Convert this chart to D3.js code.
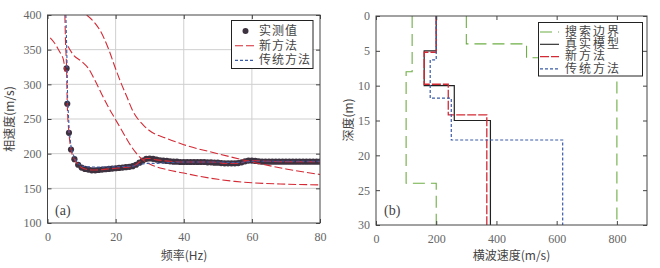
<!DOCTYPE html>
<html>
<head>
<meta charset="utf-8">
<script src="https://cdn.jsdelivr.net/npm/d3@7"></script>
<style>
    body { margin: 0; background: #fff; }
    svg { display: block; }
    .cjk { font-family: "Noto Sans CJK SC", sans-serif; font-size: 12px; fill: #444; }
</style>
</head>
<body>
<script>
const width = 660;
const height = 268;

// (a) measured phase velocity
const measFreq = [5.6, 5.8, 6.3, 6.9, 7.9, 9, 10, 11, 12, 13, 14, 15, 16, 17, 18, 19, 20,
    21, 22, 23, 24, 25, 26, 27, 28, 29, 30, 31, 32, 33, 34, 35, 36, 37, 38, 39, 40,
    41, 42, 43, 44, 45, 46, 47, 48, 49, 50, 51, 52, 53, 54, 55, 56, 57, 58, 59, 60,
    61, 62, 63, 64, 65, 66, 67, 68, 69, 70, 71, 72, 73, 74, 75, 76, 77, 78, 79, 80];
const measVel = [323, 272, 230, 206, 192, 184, 180, 178, 177, 176, 176, 176.5, 177, 177.5, 178, 178.5, 179,
    179.5, 180, 180.5, 181, 182, 184, 187, 190, 192.5, 193, 192.5, 191.5, 190.5, 190, 189.5, 189, 188.5, 188.5, 188, 188,
    188, 188, 188, 188, 188, 188, 187.5, 187.5, 187, 187, 186.5, 186, 186, 186, 186, 186.5, 187.5, 189, 190, 190,
    189.5, 189, 188.5, 188.5, 188.5, 188.5, 188.5, 188.5, 188.5, 188.5, 188.5, 188.5, 188.5, 188.5, 188.5, 188.5, 188.5, 188.5, 188.5, 188.5];

// (a) new method fitted curve
const newFreq = [5.1, 5.3, 5.6, 5.8, 6.3, 6.9, 7.9, 9, 10, 11, 12, 13, 14, 16, 18, 20, 22, 24, 25, 26, 27, 28,
    29, 30, 32, 34, 36, 40, 45, 50, 52, 55, 57, 58, 60, 65, 70, 80];
const newVel = [400, 360, 323, 272, 230, 206, 192, 184, 180, 178, 177, 176.5, 176.5, 177, 178, 179, 180, 181, 182, 184, 188, 191,
    193, 193, 191, 190, 189, 188, 188, 187.5, 186, 186, 187, 189, 190, 189, 188.5, 188.5];

// (a) new method bound curves
const upperFreq = [11.5, 14, 15.4, 18, 19.8, 21.5, 23.3, 25, 28, 30, 35, 40, 50, 60, 70, 80];
const upperVel = [400, 388, 378, 350, 325, 303, 282, 262, 242, 233, 222, 213, 200, 188, 178, 170];
const midFreq = [6.0, 7.5, 10, 12, 14, 16, 18, 20, 22, 24, 26, 28, 30, 35, 40, 45, 50, 55, 60, 70, 80];
const midVel = [355, 343, 333, 323, 305, 285, 266, 249, 232, 215, 201, 191, 185, 177, 172, 167, 163, 160, 158, 156, 155];
const lowFreq = [0.8, 2, 3, 4, 4.7, 5.2];
const lowVel = [367, 360, 352, 343, 335, 318];

// (a) traditional method
const oldFreq = [5.4, 5.7, 5.9, 6.4, 7, 8, 9, 10, 12, 15, 20, 25, 27, 29, 32, 35, 40, 50, 55, 58, 60, 80];
const oldVel = [400, 340, 280, 232, 207, 193, 186, 182, 181, 180.5, 181, 182, 184, 186, 186, 187, 188, 188, 187, 188, 189, 189];

// (b) layered models: velocities per layer and layer boundary depths
const lowBoundVs = [120, 100, 200];
const lowBoundDepth = [0, 8, 24, 30];
const upBoundVs = [300, 500, 800];
const upBoundDepth = [0, 4, 6, 30];
const trueVs = [200, 160, 260, 380];
const trueDepth = [0, 5, 10, 15, 30];
const newVs = [200, 160, 240, 368];
const newDepth = [0, 5.2, 9.8, 14.2, 30];
const oldVs = [200, 180, 250, 620];
const oldDepth = [0, 6.3, 11.8, 17.8, 30];

const freqTicks = [0, 20, 40, 60, 80];
const velTicks = [100, 150, 200, 250, 300, 350, 400];
const vsTicks = [0, 200, 400, 600, 800];
const depthTicks = [0, 5, 10, 15, 20, 25, 30];

const red = "#d42a35";
const blue = "#3a5ba8";
const green = "#6fae45";
const dotColour = "#3d3340";

const svg = d3.select("body").append("svg")
    .attr("width", width)
    .attr("height", height);

function frame(g, x, y) {
    const [x0, x1] = x.range();
    const [y0, y1] = y.range();
    g.append("rect")
        .attr("x", x0).attr("y", Math.min(y0, y1))
        .attr("width", x1 - x0).attr("height", Math.abs(y1 - y0))
        .attr("fill", "none").attr("stroke", "#444").attr("stroke-width", 1);
}

function axes(g, x, y, xt, yt) {
    const [y0, y1] = y.range();
    const bottom = Math.max(y0, y1);
    const top = Math.min(y0, y1);
    g.append("g").attr("transform", `translate(0,${bottom})`)
        .call(d3.axisBottom(x).tickValues(xt).tickSize(-4).tickPadding(9));
    g.append("g").attr("transform", `translate(${x.range()[0]},0)`)
        .call(d3.axisLeft(y).tickValues(yt).tickSize(-4).tickPadding(6));
    // mirrored ticks
    g.append("g").attr("transform", `translate(0,${top})`)
        .call(d3.axisTop(x).tickValues(xt).tickSize(-4).tickFormat(""));
    g.append("g").attr("transform", `translate(${x.range()[1]},0)`)
        .call(d3.axisRight(y).tickValues(yt).tickSize(-4).tickFormat(""));
    g.selectAll(".domain").remove();
    g.selectAll(".tick line").attr("stroke", "#444");
    g.selectAll(".tick text")
        .attr("font-family", "Liberation Serif, serif")
        .attr("font-size", 12)
        .attr("fill", "#666");
}

/////////////////////////////
//// Panel (a) //////////////
/////////////////////////////
const xa = d3.scaleLinear().domain([0, 80]).range([47.5, 320]);
const ya = d3.scaleLinear().domain([100, 400]).range([223, 15]);
const ga = svg.append("g");

ga.append("defs").append("clipPath").attr("id", "clipA")
    .append("rect").attr("x", 47.5).attr("y", 15).attr("width", 272.5).attr("height", 208);

// grid
ga.selectAll(".gx").data(freqTicks.slice(1, -1)).enter().append("line")
    .attr("x1", (d) => xa(d)).attr("x2", (d) => xa(d))
    .attr("y1", 15).attr("y2", 223)
    .attr("stroke", "#cfcfcf");
ga.selectAll(".gy").data(velTicks.slice(1, -1)).enter().append("line")
    .attr("x1", 47.5).attr("x2", 320)
    .attr("y1", (d) => ya(d)).attr("y2", (d) => ya(d))
    .attr("stroke", "#cfcfcf");

const lineA = (fs, vs) => d3.line().curve(d3.curveMonotoneX)
    .x((d, i) => xa(fs[i])).y((d, i) => ya(vs[i]))(fs);

const plotA = ga.append("g").attr("clip-path", "url(#clipA)");

// measured values
plotA.selectAll(".dot").data(measFreq).enter().append("circle")
    .attr("cx", (d) => xa(d))
    .attr("cy", (d, i) => ya(measVel[i]))
    .attr("r", 3.1)
    .attr("fill", dotColour);

[[upperFreq, upperVel], [midFreq, midVel], [lowFreq, lowVel], [newFreq, newVel]].forEach(([f, v]) => {
    plotA.append("path").attr("d", lineA(f, v))
        .attr("fill", "none").attr("stroke", red).attr("stroke-width", 1.1)
        .attr("stroke-dasharray", "8,3");
});
plotA.append("path").attr("d", d3.line().x((d, i) => xa(oldFreq[i])).y((d, i) => ya(oldVel[i]))(oldFreq))
    .attr("fill", "none").attr("stroke", blue).attr("stroke-width", 1.1)
    .attr("stroke-dasharray", "3,2");

axes(ga, xa, ya, freqTicks, velTicks);
frame(ga, xa, ya);

ga.append("text").attr("x", 55).attr("y", 215)
    .attr("font-family", "Liberation Serif, serif").attr("font-size", 14).attr("fill", "#444")
    .text("(a)");

ga.append("text").attr("class", "cjk").attr("text-anchor", "middle")
    .attr("x", 184).attr("y", 260).text("频率(Hz)");
ga.append("text").attr("class", "cjk").attr("text-anchor", "middle")
    .attr("transform", "translate(14,119) rotate(-90)").text("相速度(m/s)");

// legend (a)
const legA = ga.append("g");
legA.append("rect").attr("x", 231.5).attr("y", 20.5).attr("width", 81.5).attr("height", 48)
    .attr("fill", "#fff").attr("stroke", "#222").attr("stroke-width", 1);
const legAItems = [
    { name: "实测值", type: "dot" },
    { name: "新方法", type: "new" },
    { name: "传统方法", type: "old" },
];
legAItems.forEach((d, i) => {
    const yy = 31 + i * 14.7;
    if (d.type === "dot") {
        legA.append("circle").attr("cx", 245.5).attr("cy", yy).attr("r", 3).attr("fill", dotColour);
    } else {
        legA.append("line").attr("x1", 235).attr("x2", 255).attr("y1", yy).attr("y2", yy)
            .attr("stroke", d.type === "new" ? red : blue).attr("stroke-width", 1.1)
            .attr("stroke-dasharray", d.type === "new" ? "8,3" : "3,2");
    }
    legA.append("text").attr("class", "cjk").attr("x", 259).attr("y", yy + 4)
        .attr("font-size", 11.5).attr("letter-spacing", 1).text(d.name);
});

/////////////////////////////
//// Panel (b) //////////////
/////////////////////////////
const xb = d3.scaleLinear().domain([0, 900]).range([376, 647]);
const yb = d3.scaleLinear().domain([0, 30]).range([16, 225]);
const gb = svg.append("g");

function stepPath(vs, depths) {
    const pts = [];
    vs.forEach((v, i) => {
        pts.push([v, depths[i]]);
        pts.push([v, depths[i + 1]]);
    });
    return d3.line().x((d) => xb(d[0])).y((d) => yb(d[1]))(pts);
}

const models = [
    { vs: lowBoundVs, depth: lowBoundDepth, colour: green, dash: "12,6", w: 1.1 },
    { vs: upBoundVs, depth: upBoundDepth, colour: green, dash: "12,6", w: 1.1 },
    { vs: trueVs, depth: trueDepth, colour: "#222", dash: null, w: 1.2 },
    { vs: newVs, depth: newDepth, colour: red, dash: "9,2", w: 1.3 },
    { vs: oldVs, depth: oldDepth, colour: blue, dash: "3,2", w: 1.2 },
];
models.forEach((m) => {
    gb.append("path").attr("d", stepPath(m.vs, m.depth))
        .attr("fill", "none").attr("stroke", m.colour).attr("stroke-width", m.w)
        .attr("stroke-dasharray", m.dash);
});

axes(gb, xb, yb, vsTicks, depthTicks);
frame(gb, xb, yb);

gb.append("text").attr("x", 384).attr("y", 215)
    .attr("font-family", "Liberation Serif, serif").attr("font-size", 14).attr("fill", "#444")
    .text("(b)");

gb.append("text").attr("class", "cjk").attr("text-anchor", "middle")
    .attr("x", 511.5).attr("y", 260).text("横波速度(m/s)");
gb.append("text").attr("class", "cjk").attr("text-anchor", "middle")
    .attr("transform", "translate(353,120) rotate(-90)").text("深度(m)");

// legend (b)
const legB = gb.append("g");
legB.append("rect").attr("x", 538.5).attr("y", 22.5).attr("width", 104).attr("height", 53.5)
    .attr("fill", "#fff").attr("stroke", "#222").attr("stroke-width", 1);
const legBItems = [
    { name: "搜索边界", colour: green, dash: "12,6" },
    { name: "真实模型", colour: "#222", dash: null },
    { name: "新方法", colour: red, dash: "9,2" },
    { name: "传统方法", colour: blue, dash: "3,2" },
];
legBItems.forEach((d, i) => {
    const yy = 32 + i * 12.3;
    legB.append("line").attr("x1", 540).attr("x2", 559).attr("y1", yy).attr("y2", yy)
        .attr("stroke", d.colour).attr("stroke-width", 1.1).attr("stroke-dasharray", d.dash);
    legB.append("text").attr("class", "cjk").attr("x", 565).attr("y", yy + 3.8)
        .attr("font-size", 10.5).attr("letter-spacing", 2).text(d.name);
});
</script>
</body>
</html>
